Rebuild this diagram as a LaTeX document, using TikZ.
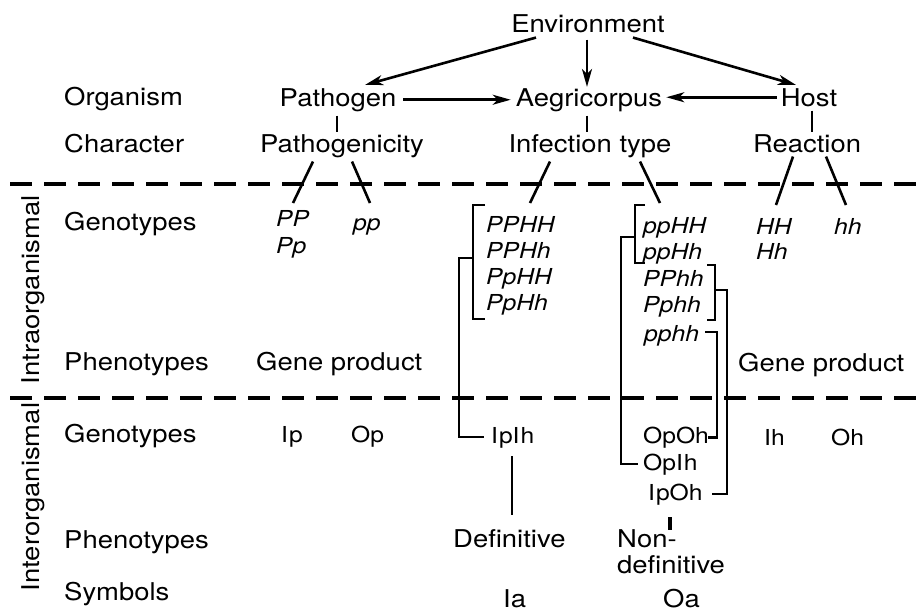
\documentclass[tikz,border=0pt]{standalone}
\usepackage{fontspec}
\setmainfont{TeX Gyre Heros}[FakeStretch=1.12]
\usetikzlibrary{arrows.meta,calc}

\begin{document}
\begin{tikzpicture}[x=1pt,y=-1pt,
  lbl/.style={anchor=base,inner sep=1pt,font=\fontsize{24.5}{26}\selectfont},
  rowlbl/.style={lbl,anchor=base west},
  geno/.style={anchor=base west,inner sep=1pt,font=\fontsize{22}{26}\selectfont\itshape},
  code/.style={anchor=base west,inner sep=1pt,font=\fontsize{22}{26}\selectfont},
  arr/.style={line width=2.6pt,-{Stealth[length=18pt,width=10pt,inset=5pt]}},
  link/.style={line width=2.2pt},
  tick/.style={line width=2.6pt},
  brk/.style={line width=2.8pt},
  sep/.style={line width=3.2pt,dash pattern=on 22pt off 12pt},
]
\useasboundingbox (0,0) rectangle (919,611);

% row captions on the left
\node[rowlbl] (org) at (63,105) {Organism};
\node[rowlbl] (chr) at (63,152) {Character};
\node[rowlbl] (gA)  at (63,230) {Genotypes};
\node[rowlbl] (pA)  at (63,370) {Phenotypes};
\node[rowlbl] (gB)  at (63,442) {Genotypes};
\node[rowlbl] (pB)  at (63,548) {Phenotypes};
\node[rowlbl] (sym) at (63,600) {Symbols};
\node[lbl,rotate=90] (intra) at (39,290) {Intraorganismal};
\node[lbl,rotate=90] (inter) at (39,497) {Interorganismal};

% level separators
\draw[sep] (10,184) coordinate (sA) -- (919,184) coordinate (sB);
\draw[sep] (10,398) coordinate (sC) -- (919,398) coordinate (sD);

% organisms and characters
\node[lbl] (env)  at (588,32)  {Environment};
\node[lbl] (pat)  at (338,106) {Pathogen};
\node[lbl] (aeg)  at (589,106) {Aegricorpus};
\node[lbl] (host) at (809,106) {Host};
\node[lbl] (pgy)  at (342,152) {Pathogenicity};
\node[lbl] (inf)  at (590,152) {Infection type};
\node[lbl] (rea)  at (807,152) {Reaction};

\draw[arr] ($(env.south)+(-52,4)$) -- ($(pat.north)+(27,-2)$);
\draw[arr] ($(env.south)+(-1,6)$) -- ($(aeg.north)+(-2,0)$);
\draw[arr] ($(env.south)+(45,4)$) -- ($(host.north)+(-13,-2)$);
\draw[arr] ($(pat.east)+(6,0)$) -- ($(aeg.west)+(-4,0)$);
\draw[arr,shorten >=3pt] ($(host.west)+(-3,0)$) -- (host.west -| aeg.east);

\draw[tick] ($(pat.south)+(-1,3)$) -- ($(pat.south |- pgy.north)+(-1,-1)$);
\draw[tick] ($(aeg.south)+(-2,3)$) -- ($(aeg.south |- inf.north)+(-2,-1)$);
\draw[tick] ($(host.south)+(3,3)$) -- ($(host.south |- rea.north)+(3,-1)$);

% genotypes of each partner
\node[geno] (PP) at (275,226) {PP};
\node[geno] (Pp) at (275,253) {Pp};
\node[geno] (pp) at (352,230) {pp};
\node[geno] (HH) at (755,234) {HH};
\node[geno] (Hh) at (755,259) {Hh};
\node[geno] (hh) at (833,234) {hh};

\coordinate (tPP) at (293,203);
\coordinate (tpp) at (370,203);
\coordinate (tLa) at (530,203);
\coordinate (tLb) at (660,203);
\coordinate (tHH) at (776,205);
\coordinate (thh) at (846,205);
\draw[tick] ($(pgy.south)+(-29,3)$) -- (tPP);
\draw[tick] ($(pgy.south)+(10,3)$) -- (tpp);
\draw[tick] ($(inf.south)+(-40,3)$) -- (tLa);
\draw[tick] ($(inf.south)+(50,3)$) -- (tLb);
\draw[tick] ($(rea.south)+(-14,3)$) -- (tHH);
\draw[tick] ($(rea.south)+(19,3)$) -- (thh);

% genotypes of the aegricorpus
\node[geno] (a1) at (485,232) {PPHH};
\node[geno] (a2) at (485,258) {PPHh};
\node[geno] (a3) at (485,284) {PpHH};
\node[geno] (a4) at (485,310) {PpHh};
\node[geno] (b1) at (642,233) {ppHH};
\node[geno] (b2) at (642,259) {ppHh};
\node[geno] (b3) at (642,286) {PPhh};
\node[geno] (b4) at (642,312) {Pphh};
\node[geno] (b5) at (643,341) {pphh};

% phenotypes of the partners
\node[rowlbl] (gpL) at (255,370) {Gene product};
\node[rowlbl] (gpR) at (737,371) {Gene product};

% interorganismal genotypes
\node[code] (Ip) at (280,442) {I\kern1pt p};
\node[code] (Op) at (350,442) {Op};
\node[code] (Ih) at (763,445) {Ih};
\node[code] (Oh) at (830,445) {Oh};
\node[code] (ipih) at (490,443) {I\kern1pt pI\kern1pt h};
\node[code] (opoh) at (642,443) {OpOh};
\node[code] (opih) at (642,470) {OpI\kern1pt h};
\node[code] (ipoh) at (647,500) {I\kern1pt pOh};

% brackets grouping the genotypes
\draw[brk] (485,205) -| (473,319) -- (485,319);
\draw[link] (473,258) -| ($(ipih.west)+(-31,0)$) -- ($(ipih.west)+(-6,0)$);

\draw[brk] (645,205) -| (635,263) -- (645,263);
\draw[link] (635,237) -| ($(opih.west)+(-21,0)$) -- ($(opih.west)+(-4,0)$);

\draw[brk] (707,265) -| (715,320) -- (707,320);
\draw[link] (715,290) -| (727,0 |- ipoh.east) -- (712,0 |- ipoh.east);

\draw[brk] (705,332) -| (717,0 |- opoh.east) -- (708,0 |- opoh.east);

% interorganismal phenotypes and symbols
\node[lbl,anchor=base west] (def) at (452,547) {Definitive};
\node[lbl,anchor=north west,align=left] (nd) at (616,528) {Non-\\definitive};
\node[lbl,anchor=base west] (Ia) at (502,607) {Ia};
\node[lbl,anchor=base west] (Oa) at (662,607) {Oa};

\draw[link,line width=1.6pt] ($(ipih.south)+(-1,7)$) -- ($(ipih.south |- def.north)+(-1,-13)$);
\draw[tick,line width=3.2pt] ($(nd.north west)+(54,-11)$) -- ($(nd.north west)+(54,2)$);
\end{tikzpicture}
\end{document}
